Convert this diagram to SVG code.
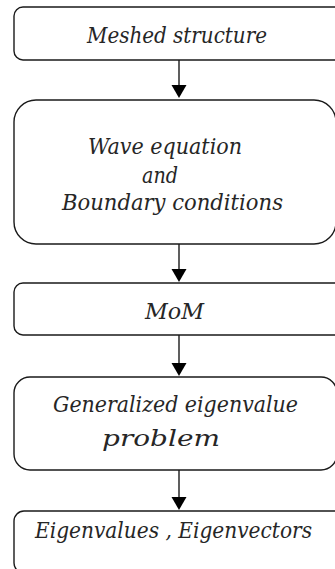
<svg xmlns="http://www.w3.org/2000/svg" width="335" height="569" viewBox="0 0 335 569">
<defs>
<style>
.box{fill:#fff;stroke:#1a1a1a;stroke-width:1.4}
.t{font-family:"DejaVu Serif","Liberation Serif",serif;font-style:italic;font-size:22px;fill:#262626}
.c{stroke:#1a1a1a;stroke-width:1.4;fill:none}
.h{fill:#000}
</style>
</defs>
<rect width="335" height="569" fill="#fff"/>
<g id="connectors">
<line class="c" x1="179" y1="60" x2="179" y2="86"/><polygon class="h" points="171.5,85 186.5,85 179,98"/>
<line class="c" x1="179" y1="244" x2="179" y2="270"/><polygon class="h" points="171.5,269 186.5,269 179,282"/>
<line class="c" x1="179" y1="335" x2="179" y2="364"/><polygon class="h" points="171.5,363 186.5,363 179,376"/>
<line class="c" x1="179" y1="470" x2="179" y2="498"/><polygon class="h" points="171.5,497 186.5,497 179,510"/>
</g>
<g id="n1">
<rect class="box" x="14" y="7" width="335" height="53" rx="9"/>
<text class="t" x="87" y="43" textLength="180" lengthAdjust="spacingAndGlyphs">Meshed structure</text>
</g>
<g id="n2">
<rect class="box" x="14" y="100" width="322" height="144" rx="22"/>
<text class="t" x="88" y="154" textLength="154" lengthAdjust="spacingAndGlyphs">Wave equation</text>
<text class="t" x="142" y="183" textLength="36" lengthAdjust="spacingAndGlyphs">and</text>
<text class="t" x="62" y="210" textLength="221" lengthAdjust="spacingAndGlyphs">Boundary  conditions</text>
</g>
<g id="n3">
<rect class="box" x="14" y="283" width="335" height="52" rx="9"/>
<text class="t" x="145" y="319" textLength="59" lengthAdjust="spacingAndGlyphs">MoM</text>
</g>
<g id="n4">
<rect class="box" x="14" y="377" width="323" height="93" rx="16"/>
<text class="t" x="53" y="412" textLength="245" lengthAdjust="spacingAndGlyphs">Generalized eigenvalue</text>
<text class="t" x="102" y="446" textLength="118" lengthAdjust="spacingAndGlyphs">problem</text>
</g>
<g id="n5">
<rect class="box" x="14" y="511" width="335" height="62" rx="10"/>
<text class="t" x="35" y="538" textLength="277" lengthAdjust="spacingAndGlyphs">Eigenvalues , Eigenvectors</text>
</g>
</svg>
